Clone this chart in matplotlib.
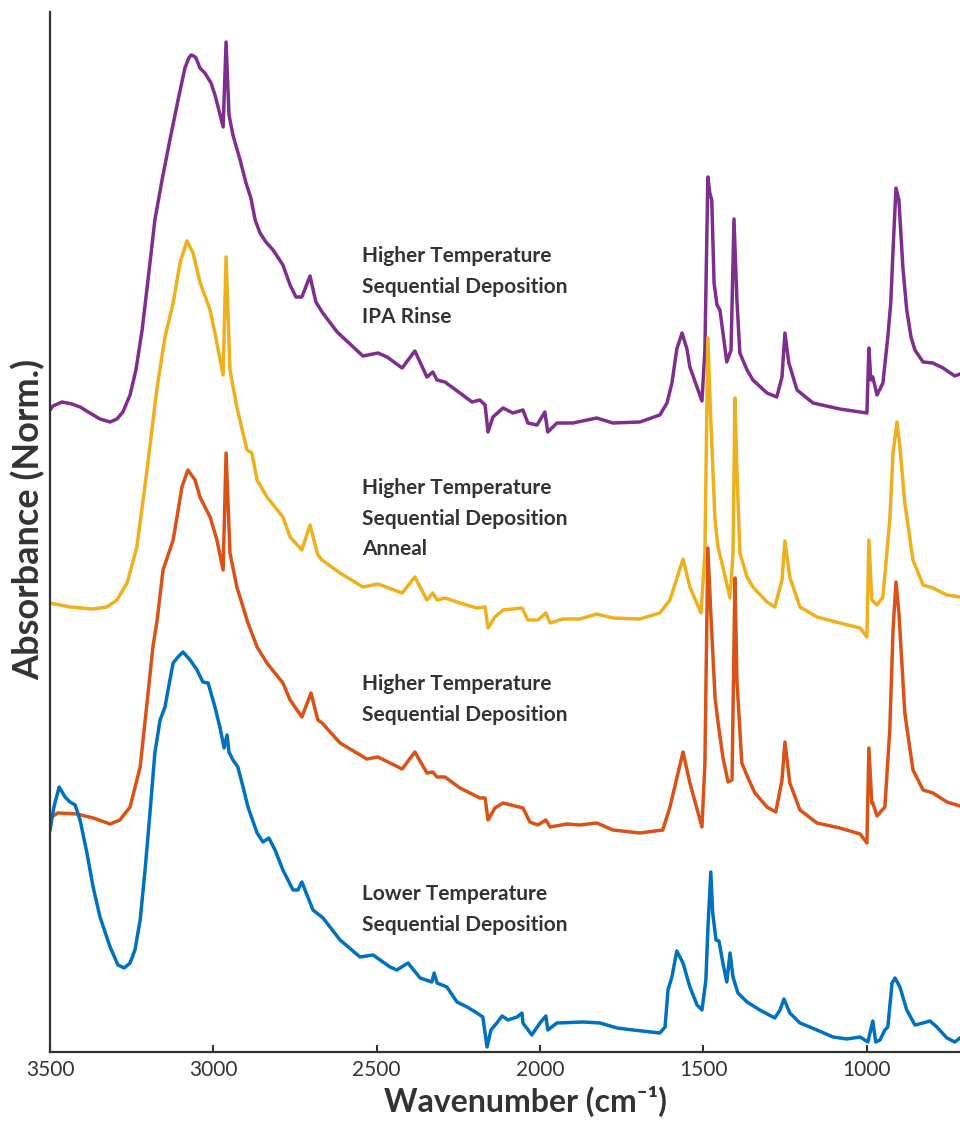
import matplotlib
matplotlib.use("Agg")
import matplotlib.pyplot as plt

plt.rcParams['font.family'] = ['Lato', 'DejaVu Sans']

# FTIR spectra, wavenumber (cm-1) vs normalized absorbance (stacked offsets)
wn_rinse = [3500, 3491, 3463, 3433, 3408, 3378, 3347, 3316, 3295, 3277, 3255, 3237,
            3218, 3200, 3179, 3157, 3133, 3108, 3087, 3075, 3068, 3060, 3053, 3041, 3026, 3007,
            2995, 2983, 2970, 2961, 2952, 2940, 2918, 2900, 2885, 2872, 2857, 2839,
            2817, 2787, 2765, 2747, 2729, 2704, 2686, 2667, 2621, 2542, 2496, 2468,
            2422, 2383, 2346, 2328, 2315, 2291, 2245, 2208, 2184, 2168, 2159, 2144,
            2113, 2083, 2052, 2037, 2009, 1985, 1976, 1948, 1899, 1826, 1777, 1694,
            1633, 1611, 1596, 1581, 1565, 1550, 1541, 1504, 1495, 1486, 1480, 1474, 1467, 1458,
            1449, 1428, 1415, 1406, 1397, 1388, 1366, 1348, 1305, 1275, 1259, 1250,
            1238, 1213, 1164, 1082, 1020, 999, 993, 987, 981, 968, 950, 935,
            926, 919, 910, 901, 889, 877, 864, 852, 827, 797, 766, 730, 714]
ab_rinse = [0.642, 0.646, 0.650, 0.648, 0.645, 0.639, 0.633, 0.630, 0.633, 0.640, 0.657, 0.682,
            0.722, 0.772, 0.832, 0.872, 0.912, 0.952, 0.984, 0.994, 0.997, 0.996, 0.994, 0.984, 0.979, 0.969,
            0.957, 0.942, 0.925, 1.010, 0.937, 0.917, 0.892, 0.869, 0.854, 0.832, 0.819, 0.810,
            0.802, 0.787, 0.767, 0.755, 0.755, 0.776, 0.750, 0.740, 0.720, 0.696, 0.699, 0.695,
            0.684, 0.701, 0.675, 0.680, 0.672, 0.670, 0.659, 0.650, 0.652, 0.647, 0.620, 0.635,
            0.644, 0.639, 0.642, 0.629, 0.627, 0.640, 0.620, 0.629, 0.629, 0.634, 0.629, 0.630,
            0.637, 0.649, 0.669, 0.703, 0.719, 0.703, 0.685, 0.651, 0.702, 0.875, 0.859, 0.852, 0.769, 0.747,
            0.742, 0.690, 0.702, 0.833, 0.752, 0.699, 0.682, 0.672, 0.659, 0.655, 0.675, 0.719,
            0.689, 0.662, 0.649, 0.643, 0.640, 0.639, 0.704, 0.672, 0.675, 0.657, 0.669, 0.715,
            0.749, 0.802, 0.864, 0.852, 0.785, 0.742, 0.715, 0.702, 0.690, 0.689, 0.684, 0.676, 0.678]

wn_anneal = [3500, 3439, 3368, 3326, 3295, 3264, 3234, 3203, 3172, 3148, 3123, 3102,
             3081, 3062, 3041, 3010, 2995, 2970, 2961, 2949, 2928, 2897, 2882, 2866,
             2836, 2787, 2765, 2729, 2704, 2680, 2667, 2612, 2542, 2496, 2422, 2383,
             2346, 2328, 2315, 2291, 2245, 2193, 2168, 2159, 2138, 2113, 2055, 2037,
             2006, 1982, 1969, 1930, 1878, 1826, 1777, 1694, 1633, 1602, 1562, 1541,
             1507, 1495, 1486, 1477, 1464, 1455, 1440, 1418, 1409, 1403, 1397, 1388,
             1366, 1348, 1305, 1281, 1259, 1250, 1235, 1204, 1152, 1082, 1020, 999,
             993, 984, 968, 950, 929, 919, 907, 898, 883, 858, 827, 797, 754, 714]
ab_anneal = [0.449, 0.445, 0.443, 0.445, 0.452, 0.469, 0.505, 0.582, 0.665, 0.715, 0.749, 0.789,
             0.811, 0.799, 0.770, 0.742, 0.719, 0.677, 0.795, 0.682, 0.645, 0.602, 0.599, 0.572,
             0.555, 0.535, 0.515, 0.502, 0.527, 0.497, 0.492, 0.479, 0.465, 0.468, 0.459, 0.475,
             0.452, 0.459, 0.452, 0.454, 0.449, 0.444, 0.445, 0.424, 0.435, 0.442, 0.444, 0.432,
             0.432, 0.439, 0.429, 0.433, 0.433, 0.438, 0.434, 0.433, 0.439, 0.452, 0.493, 0.465,
             0.439, 0.499, 0.714, 0.632, 0.532, 0.505, 0.485, 0.454, 0.499, 0.654, 0.582, 0.499,
             0.475, 0.465, 0.450, 0.445, 0.472, 0.511, 0.475, 0.445, 0.435, 0.429, 0.424, 0.415,
             0.512, 0.452, 0.447, 0.455, 0.532, 0.599, 0.630, 0.605, 0.549, 0.492, 0.467, 0.464,
             0.457, 0.455]

wn_high = [3500, 3476, 3417, 3368, 3316, 3286, 3255, 3224, 3203, 3185, 3172, 3154,
           3123, 3096, 3078, 3056, 3041, 3010, 2989, 2970, 2961, 2949, 2928, 2894,
           2866, 2836, 2787, 2765, 2729, 2701, 2680, 2667, 2612, 2530, 2496, 2422,
           2383, 2346, 2328, 2315, 2291, 2245, 2184, 2168, 2159, 2138, 2113, 2052,
           2031, 2006, 1982, 1969, 1917, 1878, 1826, 1777, 1694, 1624, 1602, 1562,
           1541, 1504, 1495, 1486, 1477, 1464, 1455, 1440, 1424, 1412, 1403, 1397,
           1382, 1363, 1342, 1305, 1278, 1259, 1250, 1235, 1204, 1152, 1082, 1020,
           999, 993, 984, 981, 968, 944, 929, 919, 910, 901, 883, 858, 827, 797, 754, 714]
ab_high = [0.234, 0.239, 0.238, 0.234, 0.228, 0.232, 0.245, 0.285, 0.349, 0.405, 0.432, 0.482,
           0.512, 0.565, 0.582, 0.572, 0.555, 0.535, 0.512, 0.482, 0.599, 0.499, 0.465, 0.429,
           0.405, 0.389, 0.369, 0.352, 0.335, 0.359, 0.332, 0.329, 0.309, 0.293, 0.295, 0.283,
           0.300, 0.279, 0.280, 0.275, 0.275, 0.264, 0.254, 0.254, 0.232, 0.244, 0.249, 0.244,
           0.230, 0.227, 0.232, 0.225, 0.228, 0.227, 0.229, 0.222, 0.219, 0.222, 0.245, 0.300,
           0.269, 0.225, 0.289, 0.504, 0.439, 0.355, 0.330, 0.295, 0.270, 0.272, 0.474, 0.372,
           0.289, 0.274, 0.259, 0.245, 0.240, 0.272, 0.310, 0.269, 0.242, 0.229, 0.224, 0.218,
           0.209, 0.304, 0.249, 0.249, 0.236, 0.245, 0.322, 0.422, 0.470, 0.439, 0.339, 0.282,
           0.262, 0.259, 0.250, 0.246]

wn_low = [3500, 3488, 3472, 3454, 3439, 3423, 3408, 3387, 3368, 3347, 3316, 3292,
          3273, 3255, 3240, 3224, 3209, 3194, 3179, 3163, 3148, 3133, 3123, 3108,
          3093, 3071, 3050, 3032, 3016, 2995, 2980, 2967, 2958, 2952, 2940, 2925,
          2909, 2894, 2866, 2848, 2830, 2811, 2787, 2756, 2741, 2729, 2695, 2664,
          2612, 2551, 2511, 2459, 2438, 2404, 2367, 2331, 2324, 2315, 2285, 2254,
          2223, 2193, 2175, 2162, 2150, 2132, 2116, 2098, 2070, 2055, 2052, 2025,
          2000, 1982, 1976, 1948, 1868, 1816, 1764, 1715, 1633, 1617, 1608, 1596,
          1581, 1562, 1541, 1519, 1504, 1492, 1486, 1477, 1471, 1461, 1452, 1440,
          1428, 1418, 1409, 1394, 1366, 1327, 1281, 1265, 1253, 1235, 1204, 1152,
          1103, 1060, 1020, 996, 981, 972, 959, 944, 935, 922, 913, 898,
          877, 852, 827, 806, 785, 754, 730, 714]
ab_low = [0.222, 0.245, 0.265, 0.255, 0.250, 0.247, 0.232, 0.199, 0.165, 0.135, 0.105, 0.087,
          0.084, 0.089, 0.102, 0.132, 0.182, 0.239, 0.299, 0.332, 0.345, 0.372, 0.389, 0.395,
          0.400, 0.392, 0.382, 0.370, 0.369, 0.345, 0.325, 0.304, 0.317, 0.300, 0.292, 0.285,
          0.265, 0.245, 0.219, 0.210, 0.214, 0.202, 0.182, 0.162, 0.162, 0.170, 0.142, 0.134,
          0.112, 0.095, 0.097, 0.085, 0.082, 0.089, 0.074, 0.070, 0.079, 0.069, 0.065, 0.050,
          0.045, 0.039, 0.035, 0.005, 0.022, 0.029, 0.036, 0.032, 0.035, 0.039, 0.029, 0.017,
          0.029, 0.036, 0.022, 0.029, 0.030, 0.029, 0.024, 0.022, 0.019, 0.025, 0.062, 0.075,
          0.101, 0.089, 0.065, 0.047, 0.042, 0.072, 0.122, 0.180, 0.139, 0.112, 0.111, 0.089,
          0.070, 0.099, 0.075, 0.059, 0.050, 0.042, 0.034, 0.042, 0.053, 0.039, 0.029, 0.022,
          0.015, 0.013, 0.015, 0.010, 0.031, 0.010, 0.012, 0.022, 0.025, 0.069, 0.074, 0.065,
          0.042, 0.027, 0.029, 0.031, 0.025, 0.014, 0.010, 0.014]

labels = [
    ["Higher Temperature", "Sequential Deposition", "IPA Rinse"],
    ["Higher Temperature", "Sequential Deposition", "Anneal"],
    ["Higher Temperature", "Sequential Deposition"],
    ["Lower Temperature", "Sequential Deposition"],
]
label_y = [0.790, 0.558, 0.362, 0.152]
label_x = 2545

colors = ['#7E2F8E', '#EDB120', '#D95319', '#0072BD']
series = [(wn_rinse, ab_rinse), (wn_anneal, ab_anneal),
          (wn_high, ab_high), (wn_low, ab_low)]

fig = plt.figure(figsize=(9.6, 11.22), dpi=100)
ax = fig.add_axes([0.0521, 0.0624, 0.9479, 0.9269])

for (x, y), c in zip(series, colors):
    ax.plot(x, y, color=c, lw=2.5, solid_joinstyle='round')

for lines, yb in zip(labels, label_y):
    for i, s in enumerate(lines):
        ax.annotate(s, xy=(label_x, yb), xytext=(0, -22 * i),
                    textcoords='offset points', va='baseline', ha='left',
                    fontsize=15, fontweight='bold', color='#333333')

ax.set_xlim(3500, 714)
ax.set_ylim(0, 1.04)
ax.set_xticks([3500, 3000, 2500, 2000, 1500, 1000])
ax.set_yticks([])
ax.tick_params(axis='x', direction='in', length=5, width=1.5,
               color='#333333', labelsize=15, labelcolor='#333333', pad=6)
for side in ['top', 'right']:
    ax.spines[side].set_visible(False)
for side in ['left', 'bottom']:
    ax.spines[side].set_linewidth(1.6)
    ax.spines[side].set_color('#333333')

ax.set_xlabel('Wavenumber (cm\u207b\u00b9)', fontsize=23, fontweight='bold',
              color='#333333', va='baseline')
ax.xaxis.set_label_coords(0.522, -0.0577)
ax.set_ylabel('Absorbance (Norm.)', fontsize=26, fontweight='bold',
              color='#333333', va='center')
ax.yaxis.set_label_coords(-0.024, 0.5125)

fig.savefig('out.png', dpi=100)
